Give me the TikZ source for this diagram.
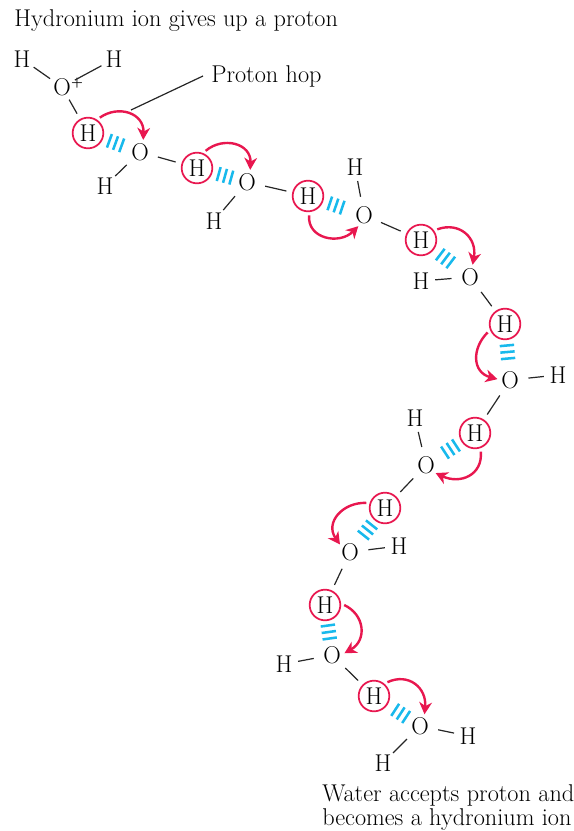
\documentclass[tikz,border=0pt]{standalone}
\usepackage{xcolor}
\usepackage{tikz}
\usetikzlibrary{arrows.meta,calc}
\definecolor{hopred}{HTML}{E8174F}
\definecolor{bridgeblue}{HTML}{18B9EC}
\newcommand{\hbridge}[3][.5]{\foreach \s in {-4.9pt,0pt,4.9pt}{\draw[bridge] ($(#2)!#1!(#3)!\s!(#3)!5.4pt!90:(#3)$)--($(#2)!#1!(#3)!\s!(#3)!5.4pt!-90:(#3)$);}}
\begin{document}
\begin{tikzpicture}[x=.75pt,y=.75pt,font=\fontsize{18.2}{18}\selectfont,atom/.style={circle,inner sep=0pt,minimum size=18pt},proton/.style={atom,draw=hopred,line width=1.3pt,minimum size=23pt},bond/.style={line width=.9pt,color=black!85,shorten <=4.5pt,shorten >=1.5pt},pbond/.style={bond,shorten >=4.5pt},bridge/.style={line width=1.9pt,color=bridgeblue},hop/.style={line width=1.8pt,color=hopred,shorten <=2.5pt,looseness=1.35,-{Stealth[length=9pt,width=9.5pt,inset=2.8pt]}},note/.style={anchor=west,inner sep=0pt,align=left}]
\useasboundingbox (0,0) rectangle (574,-831);
\node[note] (gives) at (14,-21) {Hydronium ion gives up a proton};
\node[note] (hoplabel) at (211,-76) {Proton hop};
\node[note] (accepts) at (322,-808) {Water accepts proton and\\becomes a hydronium ion};
\node[atom] (hi) at (22,-59) {H};
\node[atom] (hj) at (114,-59) {H};
\node[atom] (oz) at (62,-87) {O\rlap{\smash{\kern.3pt\raisebox{6.5pt}{\fontsize{10}{10}\selectfont\textbf{+}}}}};
\node[proton] (pa) at (88,-133) {H};
\node[atom] (oa) at (140,-152) {O};
\node[atom] (ha) at (105,-186) {H};
\node[proton] (pb) at (197,-168) {H};
\node[atom] (ob) at (247,-182) {O};
\node[atom] (hb) at (214,-221) {H};
\node[proton] (pc) at (308,-196) {H};
\node[atom] (oc) at (364,-215) {O};
\node[atom] (hc) at (355,-167) {H};
\node[proton] (pd) at (421,-240) {H};
\node[atom] (od) at (470,-277) {O};
\node[atom] (hd) at (421,-281) {H};
\node[proton] (pe) at (505,-324) {H};
\node[atom] (oe) at (510,-380) {O};
\node[atom] (he) at (558,-375) {H};
\node[proton] (pf) at (475,-433) {H};
\node[atom] (of) at (426,-465) {O};
\node[atom] (hf) at (415,-418) {H};
\node[proton] (pg) at (385,-508) {H};
\node[atom] (og) at (350,-552) {O};
\node[atom] (hg) at (399,-546) {H};
\node[proton] (ph) at (325,-605) {H};
\node[atom] (oh) at (332,-655) {O};
\node[atom] (hh) at (284,-664) {H};
\node[proton] (pk) at (374,-696) {H};
\node[atom] (ok) at (420,-726) {O};
\node[atom] (hk) at (468,-736) {H};
\node[atom] (hl) at (383,-763) {H};
\coordinate (hoptouch) at (131,-110);
\draw[line width=.9pt,color=black!85] (hoplabel.west)++(-6pt,0pt)--(hoptouch);
\draw[bond,shorten <=1.5pt] (oz)--(hi);
\draw[bond,shorten <=1.5pt] (oz)--(hj);
\draw[pbond,shorten <=1.5pt] (oz)--(pa);
\draw[bond] (oa)--(ha);
\draw[pbond] (oa)--(pb);
\draw[bond] (ob)--(hb);
\draw[pbond] (ob)--(pc);
\draw[bond] (oc)--(hc);
\draw[pbond] (oc)--(pd);
\draw[bond] (od)--(hd);
\draw[pbond] (od)--(pe);
\draw[bond] (oe)--(he);
\draw[pbond] (oe)--(pf);
\draw[bond] (of)--(hf);
\draw[pbond] (of)--(pg);
\draw[bond] (og)--(hg);
\draw[pbond] (og)--(ph);
\draw[bond] (oh)--(hh);
\draw[pbond] (oh)--(pk);
\draw[bond] (ok)--(hk);
\draw[bond] (ok)--(hl);
\hbridge[.53]{pa}{oa}
\hbridge[.56]{pb}{ob}
\hbridge{pc}{oc}
\hbridge{pd}{od}
\hbridge{pe}{oe}
\hbridge{pf}{of}
\hbridge{pg}{og}
\hbridge[.54]{ph}{oh}
\hbridge[.58]{pk}{ok}
\draw[hop] (pa.56) to[out=35,in=88] (oa.75);
\draw[hop] (pb.68) to[out=40,in=88] (ob.75);
\draw[hop] (pc.-85) to[out=-95,in=-135] (oc.-117);
\draw[hop] (pd.36) to[out=20,in=80] (od.78);
\draw[hop] (pe.202) to[out=225,in=165] (oe.176);
\draw[hop] (pf.-70) to[out=-85,in=-25] (of.-40);
\draw[hop] (pg.162) to[out=178,in=125] (og.143);
\draw[hop] (ph.5) to[out=-25,in=30] (oh.8);
\draw[hop] (pk.50) to[out=25,in=85] (ok.69);
\end{tikzpicture}
\end{document}
